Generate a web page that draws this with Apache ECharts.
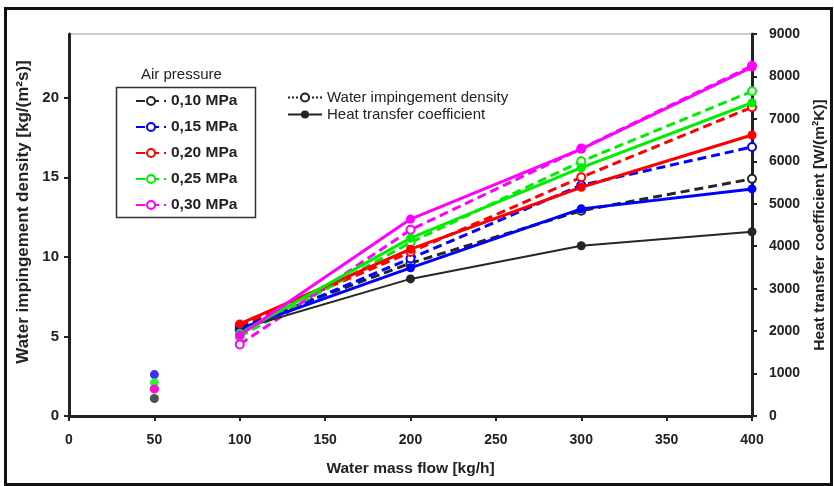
<!DOCTYPE html>
<html>
<head>
<meta charset="utf-8">
<script src="https://cdn.jsdelivr.net/npm/echarts@6/dist/echarts.min.js"></script>
<style>
  html, body { margin: 0; padding: 0; background: #fff; }
  #chart { width: 834px; height: 486px; }
</style>
</head>
<body>
<div id="chart"></div>
<script>
// water mass flow [kg/h]
const flows = [100, 200, 300, 400]
const pressures = ["0,10 MPa", "0,15 MPa", "0,20 MPa", "0,25 MPa", "0,30 MPa"]
const colors = ["#262626", "#0000ff", "#ff0000", "#00ee00", "#ff00ff"]

// water impingement density [kg/(m²s)] — dashed, open markers, left axis
const density010 = [5.6, 9.6, 12.9, 14.9]
const density015 = [5.4, 9.9, 14.5, 16.9]
const density020 = [5.7, 10.3, 15.0, 19.4]
const density025 = [5.0, 10.9, 16.0, 20.4]
const density030 = [4.5, 11.7, 16.8, 22.0]

// heat transfer coefficient [W/(m²K)] — solid, filled markers, right axis
const htc010 = [2050, 3230, 4010, 4340]
const htc015 = [2060, 3490, 4880, 5350]
const htc020 = [2170, 3930, 5390, 6620]
const htc025 = [1950, 4190, 5850, 7380]
const htc030 = [1900, 4640, 6290, 8220]

// lone points at 50 kg/h (left axis)
const flowLow = 50
const lowPoints = [1.1, 2.6, 1.7, 2.1, 1.7]

const densities = [density010, density015, density020, density025, density030]
const htcs = [htc010, htc015, htc020, htc025, htc030]

const font = "Liberation Sans, Arial, sans-serif"
const pair = (vals) => flows.map((f, i) => [f, vals[i]])

const chart = echarts.init(document.getElementById("chart"))

const series = []
pressures.forEach((name, i) => {
  series.push({
    name,
    type: "line",
    yAxisIndex: 0,
    data: pair(densities[i]),
    symbol: "emptyCircle",
    symbolSize: 8,
    lineStyle: { color: colors[i], width: 3, type: [9, 5] },
    itemStyle: { color: colors[i], borderWidth: 1.5 },
    z: 3,
  })
})
pressures.forEach((name, i) => {
  series.push({
    name: "htc " + name,
    type: "line",
    yAxisIndex: 1,
    data: pair(htcs[i]),
    symbol: "circle",
    symbolSize: 9,
    lineStyle: { color: colors[i], width: i === 0 ? 2 : 3 },
    itemStyle: { color: colors[i] },
    z: 4,
  })
})
const lowOrder = [2, 1, 3, 4, 0]
lowOrder.forEach((i) => {
  series.push({
    name: "low " + pressures[i],
    type: "scatter",
    yAxisIndex: 0,
    data: [[flowLow, lowPoints[i]]],
    symbol: "circle",
    symbolSize: 9,
    itemStyle: { color: colors[i] },
    z: 5,
  })
})
// legend-only entries for the line style key
series.push({
  name: "Water impingement density",
  type: "line",
  data: [],
  symbol: "emptyCircle",
  symbolSize: 8,
  lineStyle: { color: "#222", width: 1.5, type: "dotted" },
  itemStyle: { color: "#222" },
})
series.push({
  name: "Heat transfer coefficient",
  type: "line",
  data: [],
  symbol: "circle",
  symbolSize: 9,
  lineStyle: { color: "#222", width: 2 },
  itemStyle: { color: "#222" },
})

const axisText = { color: "#222", fontFamily: font, fontWeight: "bold", fontSize: 14 }

chart.setOption({
  animation: false,
  textStyle: { fontFamily: font },
  grid: {
    left: 69, right: 82, top: 34, bottom: 70,
    outerBoundsMode: "none",
    show: true, borderColor: "#999", borderWidth: 1,
  },
  legend: [
    {
      data: pressures,
      orient: "vertical",
      left: 130,
      top: 88,
      itemWidth: 30,
      itemHeight: 10,
      itemGap: 10,
      textStyle: { color: "#222", fontWeight: "bold", fontSize: 15.5, fontFamily: font },
    },
    {
      data: ["Water impingement density", "Heat transfer coefficient"],
      orient: "vertical",
      left: 282,
      top: 85,
      itemWidth: 34,
      itemHeight: 10,
      itemGap: 2,
      textStyle: { color: "#222", fontSize: 15, fontFamily: font },
    },
  ],
  xAxis: {
    type: "value",
    min: 0,
    max: 400,
    interval: 50,
    name: "Water mass flow [kg/h]",
    nameLocation: "middle",
    nameGap: 45,
    nameTextStyle: { ...axisText, fontSize: 15.5 },
    axisLine: { show: true, lineStyle: { color: "#222", width: 3 } },
    axisTick: { show: true, length: 5, lineStyle: { color: "#222", width: 2 } },
    axisLabel: { ...axisText, margin: 17 },
    splitLine: { show: false },
  },
  yAxis: [
    {
      type: "value",
      min: 0,
      max: 24,
      interval: 5,
      name: "Water impingement density [kg/(m²s)]",
      nameLocation: "middle",
      nameRotate: 90,
      nameGap: 34,
      nameTextStyle: { ...axisText, fontSize: 17, padding: [0, 0, 0, 26] },
      axisLine: { show: true, lineStyle: { color: "#222", width: 3 } },
      axisTick: { show: true, length: 5, lineStyle: { color: "#222", width: 2 } },
      axisLabel: { ...axisText, fontSize: 15, showMaxLabel: false, margin: 10 },
      splitLine: { show: false },
    },
    {
      type: "value",
      min: 0,
      max: 9000,
      interval: 1000,
      position: "right",
      name: "Heat transfer coefficient [W/(m²K)]",
      nameLocation: "middle",
      nameRotate: 90,
      nameGap: 60,
      nameTextStyle: { ...axisText, fontSize: 15.5 },
      axisLine: { show: true, lineStyle: { color: "#222", width: 3 } },
      axisTick: { show: true, length: 5, lineStyle: { color: "#222", width: 2 } },
      axisLabel: { ...axisText, margin: 17, formatter: (v) => String(v) },
      splitLine: { show: false },
    },
  ],
  graphic: [
    {
      type: "rect",
      left: 3,
      top: 6,
      shape: { width: 826, height: 476 },
      style: { fill: "none", stroke: "#111", lineWidth: 3 },
      silent: true,
    },
    {
      type: "rect",
      left: 114,
      top: 85,
      shape: { width: 139, height: 130 },
      style: { fill: "none", stroke: "#333", lineWidth: 1.5 },
      silent: true,
    },
    {
      type: "text",
      left: 141,
      top: 67,
      style: { text: "Air pressure", fill: "#222", font: "15px " + font },
    },
  ],
  series,
})
</script>
</body>
</html>
